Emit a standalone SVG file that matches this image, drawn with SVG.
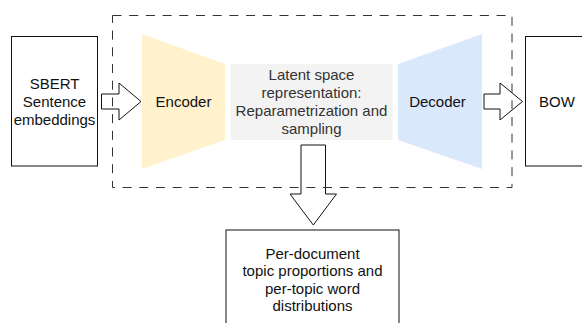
<svg xmlns="http://www.w3.org/2000/svg" width="582" height="323" viewBox="0 0 582 323">
<style>
text{font-family:"Liberation Sans",Arial,sans-serif;font-size:15px;text-anchor:middle;fill:#111}
.box{fill:#fff;stroke:#111;stroke-width:1}
.arrow{fill:none;stroke:#111;stroke-width:1}
.lat text{fill:#333}
</style>
<rect width="582" height="323" fill="#fff"/>
<g id="sbert">
<rect class="box" x="11.5" y="36.5" width="86" height="129.5"/>
<text x="54.5" y="88.5">SBERT</text>
<text x="54.5" y="106.5">Sentence</text>
<text x="54.5" y="124.5">embeddings</text>
</g>
<g id="encoder">
<polygon points="142,34 225,64 225,140 142,169" fill="#fff2cc"/>
<text x="183.5" y="106.7">Encoder</text>
</g>
<g id="latent" class="lat">
<rect x="230.5" y="64" width="162" height="76" fill="#f3f3f3"/>
<text x="311.5" y="80">Latent space</text>
<text x="311.5" y="98">representation:</text>
<text x="311.5" y="116">Reparametrization and</text>
<text x="311.5" y="134">sampling</text>
</g>
<g id="decoder">
<polygon points="398,64 482,34 482,169 398,140" fill="#dae8fc"/>
<text x="437.5" y="106.7">Decoder</text>
</g>
<g id="bow">
<rect class="box" x="525.5" y="36.5" width="63" height="129.5"/>
<text x="557" y="107">BOW</text>
</g>
<g id="output">
<rect class="box" x="226" y="230" width="173" height="110"/>
<text x="312.5" y="258.5">Per-document</text>
<text x="312.5" y="276.1">topic proportions and</text>
<text x="312.5" y="293.7">per-topic word</text>
<text x="312.5" y="311.3">distributions</text>
</g>
<g id="connectors">
<polygon class="arrow" points="101.5,94 119,94 119,83 141,101.5 119,120 119,109 101.5,109"/>
<polygon class="arrow" points="484,94 500,94 500,83 522.5,101.5 500,120 500,109 484,109"/>
<polygon class="arrow" points="301,145 325.5,145 325.5,194 336.5,194 313.3,225 290,194 301,194"/>
</g>
<g id="vae-frame">
<rect x="112.5" y="15.5" width="399.5" height="172" fill="none" stroke="#333" stroke-width="1" stroke-dasharray="9 7.7"/>
</g>
</svg>
